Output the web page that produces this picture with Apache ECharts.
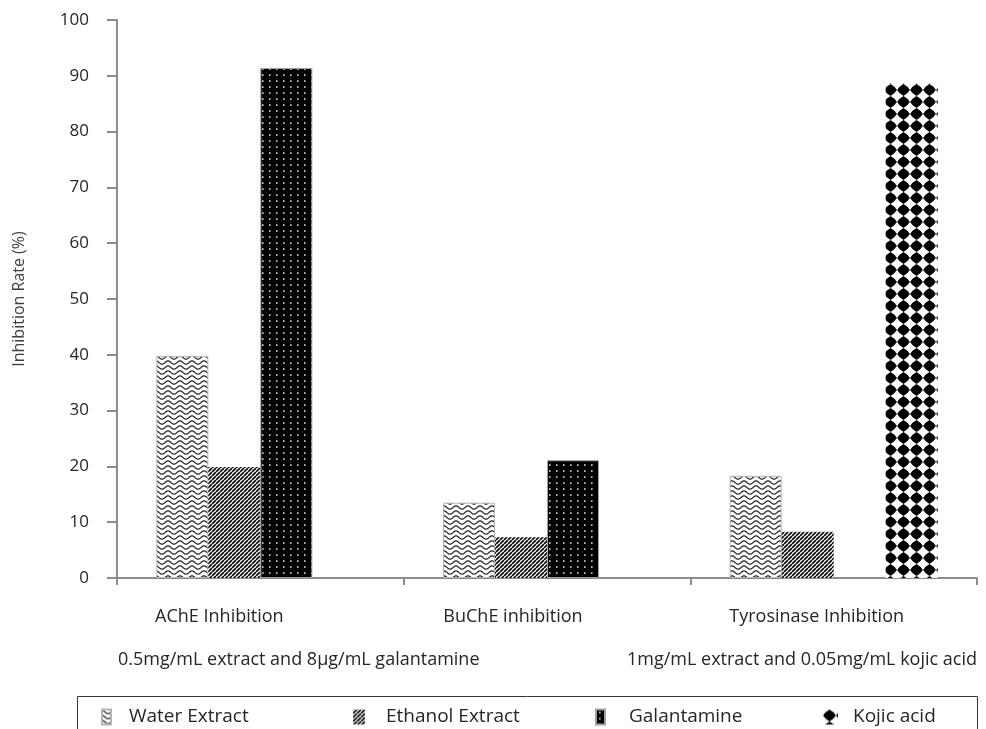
<!DOCTYPE html>
<html><head><meta charset="utf-8">
<script src="https://cdn.jsdelivr.net/npm/echarts@6/dist/echarts.min.js"></script>
<style>html,body{margin:0;padding:0;background:#fff}#c{width:986px;height:729px}</style>
</head><body><div id="c"></div>
<script>
// ---- data ----
const categories = ['AChE Inhibition', 'BuChE inhibition', 'Tyrosinase Inhibition'];
const seriesNames = ['Water Extract', 'Ethanol Extract', 'Galantamine', 'Kojic acid'];
const waterExtract = [39.8, 13.5, 18.3];
const ethanolExtract = [19.9, 7.3, 8.3];
const galantamine = [91.4, 21.1, null];
const kojicAcid = [null, null, 88.6];
const yMin = 0, yMax = 100, yInterval = 10;
const noteLeft = '0.5mg/mL extract and 8µg/mL galantamine';
const noteRight = '1mg/mL extract and 0.05mg/mL kojic acid';
const yAxisName = 'Inhibition Rate (%)';

// ---- patterns ----
function tile(w, h, bg, draw) {
  const c = document.createElement('canvas');
  c.width = w; c.height = h;
  const g = c.getContext('2d');
  g.fillStyle = bg; g.fillRect(0, 0, w, h);
  draw(g, w, h);
  return { image: c, repeat: 'repeat' };
}
const waterPat = tile(12, 5, '#fff', (g, w, h) => {
  g.strokeStyle = '#2a2a2a'; g.lineWidth = 1.3; g.beginPath();
  for (let x = -1; x <= w + 1; x += 0.5) {
    const y = 2.5 - 1.6 * Math.cos(2 * Math.PI * x / w);
    if (x === -1) g.moveTo(x, y); else g.lineTo(x, y);
  }
  g.stroke();
});
const ethanolPat = tile(4, 4, '#fff', (g) => {
  g.strokeStyle = '#111'; g.lineWidth = 1.8; g.beginPath();
  for (const k of [-4, 0, 4]) { g.moveTo(k, 4); g.lineTo(k + 4, 0); }
  g.stroke();
});
const galPat = tile(7, 6, '#000', (g) => {
  g.fillStyle = '#d8d8d8'; g.fillRect(3, 2.3, 1.6, 1.6);
});
const kojicPat = tile(13, 12, '#fff', (g) => {
  const cx = 6.5, cy = 6, hw = 6.4, hh = 6.0, k = 0.64;
  g.fillStyle = '#000'; g.beginPath();
  g.moveTo(cx, cy - hh);
  g.quadraticCurveTo(cx + hw * k, cy - hh * k, cx + hw, cy);
  g.quadraticCurveTo(cx + hw * k, cy + hh * k, cx, cy + hh);
  g.quadraticCurveTo(cx - hw * k, cy + hh * k, cx - hw, cy);
  g.quadraticCurveTo(cx - hw * k, cy - hh * k, cx, cy - hh);
  g.fill();
});

const FONT = '"Open Sans", "Noto Sans", sans-serif';
const TXT = '#262626';
const AX = '#8c8c8c';

const chart = echarts.init(document.getElementById('c'), null, { renderer: 'canvas' });
function leg(name, left, iw, gap) {
  return { data: [name], left: left, top: 705, padding: 0, icon: 'rect', itemWidth: iw, itemHeight: 15, itemGap: 0,
    textStyle: { fontSize: 19, color: TXT, fontFamily: FONT, lineHeight: 24, padding: [0, 0, 0, gap] } };
}
const labelRich = {
  s0: { fontSize: 18, color: TXT, fontFamily: FONT, padding: [0, 82, 0, 0] },
  s1: { fontSize: 18, color: TXT, fontFamily: FONT, padding: [0, 68, 0, 0] },
  s2: { fontSize: 18, color: TXT, fontFamily: FONT, padding: [0, 34, 0, 0] }
};
chart.setOption({
  animation: false,
  backgroundColor: '#fff',
  grid: { left: 117, right: 9, top: 20, bottom: 151, containLabel: false, outerBoundsMode: 'none' },
  xAxis: {
    type: 'category', data: categories,
    axisLine: { lineStyle: { color: AX, width: 2 } },
    axisTick: { show: true, length: 7, lineStyle: { color: AX, width: 2 } },
    axisLabel: { color: TXT, fontSize: 18, fontFamily: FONT, margin: 27, lineHeight: 24,
      formatter: (v, i) => '{s' + i + '|' + v + '}', rich: labelRich },
    splitLine: { show: false }
  },
  yAxis: {
    type: 'value', min: yMin, max: yMax, interval: yInterval,
    name: yAxisName, nameLocation: 'middle', nameRotate: 90, nameGap: 90,
    nameTextStyle: { color: '#404040', fontSize: 16, fontFamily: FONT },
    axisLine: { show: true, lineStyle: { color: AX, width: 2 } },
    axisTick: { show: true, length: 10, lineStyle: { color: AX, width: 2 } },
    axisLabel: { color: TXT, fontSize: 17, fontFamily: FONT, margin: 28 },
    splitLine: { show: false }
  },
  legend: [
    leg(seriesNames[0], 101, 9, 13),
    leg(seriesNames[1], 353, 12, 16),
    leg(seriesNames[2], 595, 9, 19),
    leg(seriesNames[3], 823, 15, 10)
  ],
  series: [
    { name: seriesNames[0], type: 'bar', data: waterExtract, barWidth: 52, barGap: '0%',
      itemStyle: { color: waterPat, borderColor: '#b5b5b5', borderWidth: 1 } },
    { name: seriesNames[1], type: 'bar', data: ethanolExtract, barWidth: 52, barGap: '0%',
      itemStyle: { color: ethanolPat } },
    { name: seriesNames[2], type: 'bar', data: galantamine, barWidth: 52, barGap: '0%',
      itemStyle: { color: galPat, borderColor: '#a0a0a0', borderWidth: 1 } },
    { name: seriesNames[3], type: 'bar', data: kojicAcid, barWidth: 52, barGap: '0%',
      itemStyle: { color: kojicPat } }
  ],
  graphic: [
    { type: 'rect', shape: { x: 77.5, y: 696.5, width: 900, height: 60 },
      style: { fill: 'none', stroke: '#333', lineWidth: 1 }, silent: true },
    { type: 'text', left: 118, top: 651,
      style: { text: noteLeft, font: '18px ' + FONT, fill: TXT } },
    { type: 'text', right: 9, top: 651,
      style: { text: noteRight, font: '18px ' + FONT, fill: TXT } }
  ]
});
</script>
</body></html>
